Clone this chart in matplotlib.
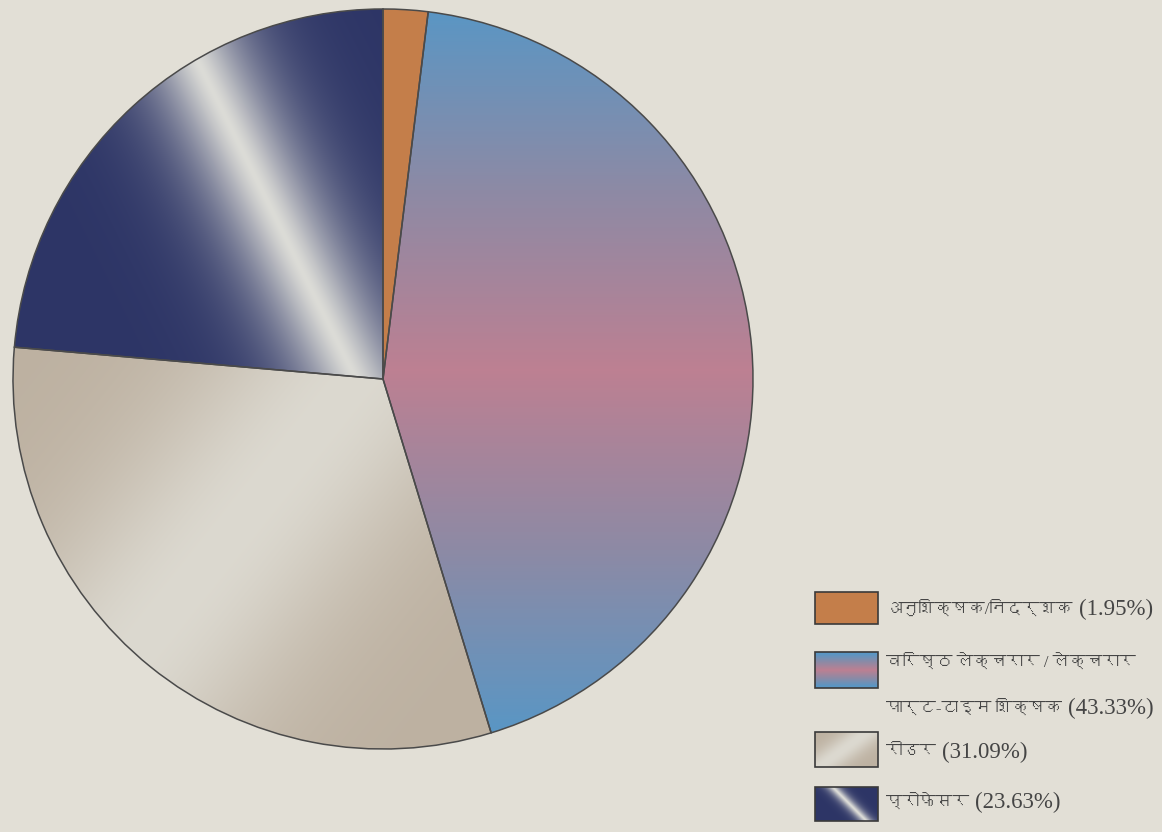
import numpy as np
import matplotlib
matplotlib.use('Agg')
import matplotlib.pyplot as plt
from matplotlib import font_manager
from matplotlib.ft2font import FT2Font
from matplotlib.colors import LinearSegmentedColormap, to_rgb
from matplotlib.patches import Rectangle

W, H = 1162, 832

labels = ['अनुशिक्षक/निदर्शक', 'वरिष्ठ लेक्चरार / लेक्चरार\nपार्ट-टाइम शिक्षक', 'रीडर', 'प्रोफेसर']
shares = [1.95, 43.33, 31.09, 23.63]

# find any installed font with Devanagari glyphs
deva = None
for f in sorted(font_manager.findSystemFonts()):
    try:
        if ord('क') in FT2Font(f).get_charmap():
            deva = font_manager.FontProperties(fname=f).get_name()
            break
    except Exception:
        pass
families = ['Liberation Serif'] + ([deva] if deva else []) + ['DejaVu Sans']

bg = '#e2dfd6'
edge = '#4a4a4a'
txt = '#454545'

fig = plt.figure(figsize=(W / 100, H / 100), dpi=100, facecolor=bg)
ax = fig.add_axes([0, 0, 1, 1])
ax.set_facecolor(bg)

cx, cy, R = 383, 379, 370
wedges, _ = ax.pie(shares, startangle=90, counterclock=False, radius=R,
                   center=(cx, H - cy), frame=True,
                   wedgeprops=dict(edgecolor=edge, linewidth=1.1, facecolor='none'))
ax.set_xlim(0, W)
ax.set_ylim(0, H)
ax.set_aspect('equal')
ax.axis('off')

# pixel grid (image coordinates, y downward)
X, Y = np.meshgrid(np.arange(W) + 0.5, np.arange(H) + 0.5)


def along_line(p0, p1, X, Y):
    d = np.array(p1, float) - np.array(p0, float)
    d /= np.hypot(*d)
    return np.abs((X - p0[0]) * d[1] - (Y - p0[1]) * d[0])


def mix(c0, c1, t):
    c0, c1 = np.array(to_rgb(c0)), np.array(to_rgb(c1))
    t = np.clip(t, 0, 1)[..., None]
    return c0 * (1 - t) + c1 * t


def soft(dist, sigma, p=2.0):
    return 1 - np.exp(-(dist / sigma) ** p)


orange = np.ones((H, W, 3)) * np.array(to_rgb('#c47e4a'))

blue_cmap = LinearSegmentedColormap.from_list('lect', ['#bd8092', '#8d8aa5', '#5a96c4'])
blue = blue_cmap(np.clip(np.abs(Y - 370) / 360, 0, 1))[..., :3]

reader = mix('#dcd9d0', '#bdb1a1', soft(along_line((333, 407), (200, 573), X, Y), 130))

prof = mix('#dcdcd7', '#2d3566', soft(along_line((187, 40), (333, 333), X, Y), 55, 1.4))

fills = [orange, blue, reader, prof]
for w, img in zip(wedges, fills):
    im = ax.imshow(img, extent=(0, W, 0, H), origin='upper', interpolation='bilinear', zorder=0.5)
    im.set_clip_path(w)
ax.set_xlim(0, W)
ax.set_ylim(0, H)

# legend swatches, built in the same pixel frame
sw_x0, sw_x1 = 815, 878
boxes = [(592, 624), (652, 688), (732, 767), (787, 821)]


def swatch_img(k, h, w):
    sx, sy = np.meshgrid(np.linspace(0, 1, w), np.linspace(0, 1, h))
    if k == 0:
        return np.ones((h, w, 3)) * np.array(to_rgb('#c47e4a'))
    if k == 1:
        return blue_cmap(np.clip(np.abs(sy - 0.5) * 2.2, 0, 1))[..., :3]
    if k == 2:
        return mix('#dcd9d0', '#bdb1a1', soft(np.abs((sx - 0.45) * 0.8 + (sy - 0.5) * 0.6), 0.3))
    return mix('#dcdcd7', '#2d3566', soft(np.abs((sx - 0.55) * 0.85 - (sy - 0.5) * 0.45), 0.1, 1.4))


for k, (top, bot) in enumerate(boxes):
    hpx, wpx = bot - top, sw_x1 - sw_x0
    ax.imshow(swatch_img(k, hpx, wpx), extent=(sw_x0, sw_x1, H - bot, H - top),
              origin='upper', interpolation='bilinear', zorder=2)
    ax.add_patch(Rectangle((sw_x0, H - bot), wpx, hpx, fill=False,
                           edgecolor='#3a3a3a', linewidth=1.2, zorder=3))

# label text, then the share in brackets right after it
rows = [(labels[0], shares[0], 609),
        ('वरिष्ठ लेक्चरार / लेक्चरार', None, 662),
        ('पार्ट-टाइम शिक्षक', shares[1], 708),
        (labels[2], shares[2], 752),
        (labels[3], shares[3], 802)]
renderer = fig.canvas.get_renderer()
for name, pct, y in rows:
    t = ax.text(886, H - y, name, fontsize=12, family=families, color=txt,
                va='center', ha='left', zorder=4)
    if pct is not None:
        x_end = t.get_window_extent(renderer).x1
        ax.text(x_end + 6, H - y, f'({pct:.2f}%)', fontsize=16.5, family='Liberation Serif',
                color=txt, va='center', ha='left', zorder=4)

ax.set_xlim(0, W)
ax.set_ylim(0, H)
fig.savefig('out.png', dpi=100, facecolor=bg)
